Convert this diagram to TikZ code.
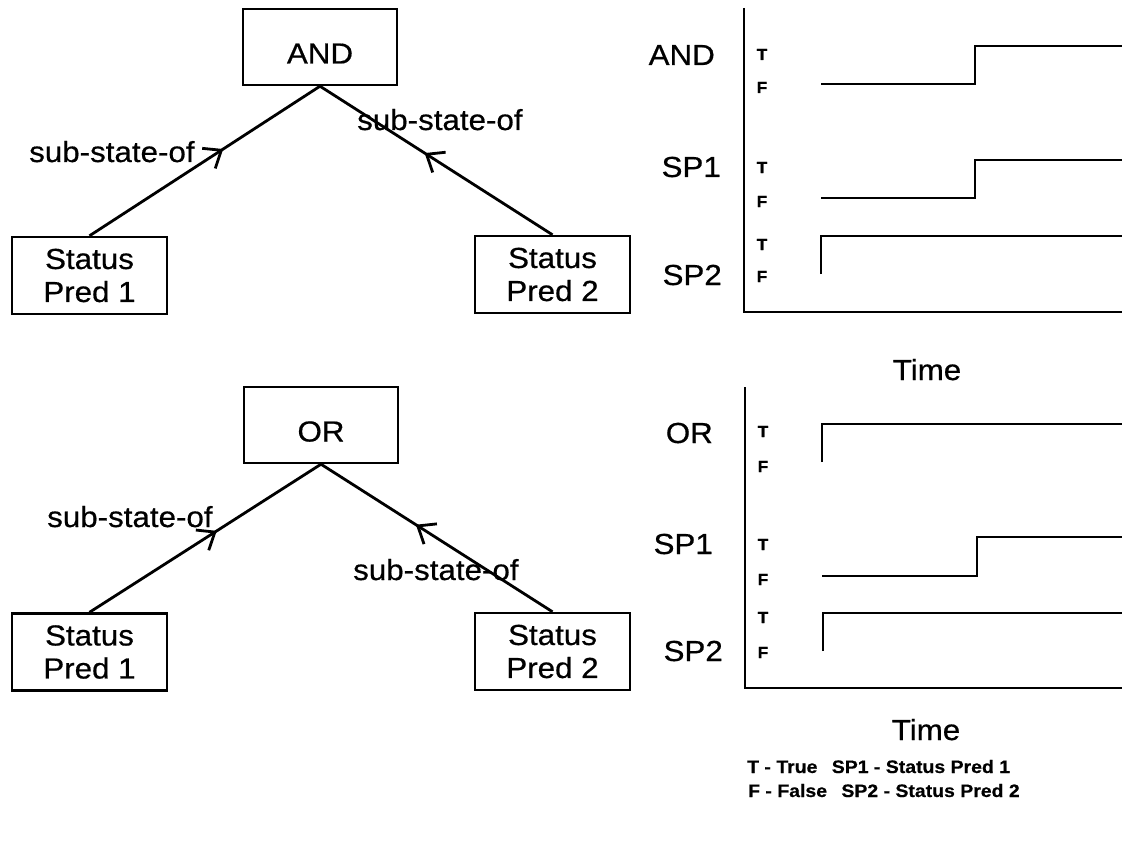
\documentclass[tikz,border=0pt]{standalone}
\usepackage{fontspec}
\setmainfont{Liberation Sans}[FakeStretch=1.08,FakeBold=0.6]
\usetikzlibrary{arrows.meta,decorations.markings}
\newcommand\lblfont{\fontsize{29}{33}\selectfont}
\newcommand\tffont{\fontsize{16}{18}\selectfont\bfseries}
\newcommand\keyfont{\fontsize{18}{22}\selectfont\bfseries}
\begin{document}
\begin{tikzpicture}[x=1pt,y=-1pt,
  gate/.style={draw,line width=2.4pt,minimum width=154pt,minimum height=76pt,
    inner sep=0pt,font=\lblfont,text height=33pt,text depth=0pt},
  pred/.style={draw,line width=2.4pt,minimum width=155pt,minimum height=77pt,
    inner sep=0pt,font=\lblfont,align=center},
  link/.style={line width=2.8pt},
  tip/.style={postaction={decorate},decoration={markings,
    mark=at position #1 with {\arrow{Straight Barb[length=15pt,width=24pt,line width=2.8pt]}}}},
  lbl/.style={font=\lblfont,inner sep=0pt},
  tf/.style={font=\tffont,inner sep=0pt,anchor=base},
  axisline/.style={line width=2.2pt},
  signal/.style={line width=2.7pt},
  legend/.style={font=\keyfont,inner sep=0pt,anchor=base west}]
\useasboundingbox (0,0) rectangle (1122,848);

% ---------- AND composition ----------
\node[gate] (and) at (320,47) {AND};
\node[pred] (a1) at (89.5,275.5) {Status\\Pred 1};
\node[pred] (a2) at (552.5,274.5) {Status\\Pred 2};
\draw[link,tip=0.58] (a1.north) -- (and.south);
\draw[link,tip=0.55] (a2.north) -- (and.south);
\node[lbl,anchor=base west] (la1) at (29,162) {sub-state-of};
\node[lbl,anchor=base west] (la2) at (357,130) {sub-state-of};

% ---------- OR composition ----------
\node[gate] (or) at (321,425) {OR};
\node[pred] (o1) at (89.5,652) {Status\\Pred 1};
\node[pred] (o2) at (552.5,651.5) {Status\\Pred 2};
\draw[link,tip=0.55] (o1.north) -- (or.south);
\draw[link,tip=0.59] (o2.north) -- (or.south);
\node[lbl,anchor=base west] (lo1) at (47,527) {sub-state-of};
\node[lbl,anchor=base west] (lo2) at (353,580) {sub-state-of};

% ---------- AND timing chart ----------
\draw[axisline] (744,8) -- (744,312) -- (1122,312);
\node[lbl,anchor=base east] (ta) at (715,65) {AND};
\node[lbl,anchor=base east] (ts1) at (721,177) {SP1};
\node[lbl,anchor=base east] (ts2) at (722,285) {SP2};
\node[tf] (tat) at (762,60) {T};
\node[tf] (taf) at (762,93) {F};
\node[tf] (t1t) at (762,173) {T};
\node[tf] (t1f) at (762,207) {F};
\node[tf] (t2t) at (762,250) {T};
\node[tf] (t2f) at (762,282) {F};
\draw[signal] (821,84) -- (975,84) -- (975,46) -- (1122,46);
\draw[signal] (821,198) -- (975,198) -- (975,160) -- (1122,160);
\draw[signal] (821,274) -- (821,236) -- (1122,236);
\node[lbl,anchor=base] (time1) at (927,380) {Time};

% ---------- OR timing chart ----------
\draw[axisline] (745,387) -- (745,688) -- (1122,688);
\node[lbl,anchor=base east] (bo) at (713,443) {OR};
\node[lbl,anchor=base east] (bs1) at (713,554) {SP1};
\node[lbl,anchor=base east] (bs2) at (723,661) {SP2};
\node[tf] (bot) at (763,437) {T};
\node[tf] (bof) at (763,472) {F};
\node[tf] (b1t) at (763,550) {T};
\node[tf] (b1f) at (763,585) {F};
\node[tf] (b2t) at (763,623) {T};
\node[tf] (b2f) at (763,658) {F};
\draw[signal] (822,462) -- (822,424) -- (1122,424);
\draw[signal] (822,576) -- (977,576) -- (977,537) -- (1122,537);
\draw[signal] (823,651) -- (823,613) -- (1122,613);
\node[lbl,anchor=base] (time2) at (926,740) {Time};

% ---------- key ----------
\node[legend] (key1) at (747,773) {T - True\hspace{0.5em} SP1 - Status Pred 1};
\node[legend] (key2) at (748,797) {F - False\hspace{0.5em} SP2 - Status Pred 2};
\end{tikzpicture}
\end{document}
